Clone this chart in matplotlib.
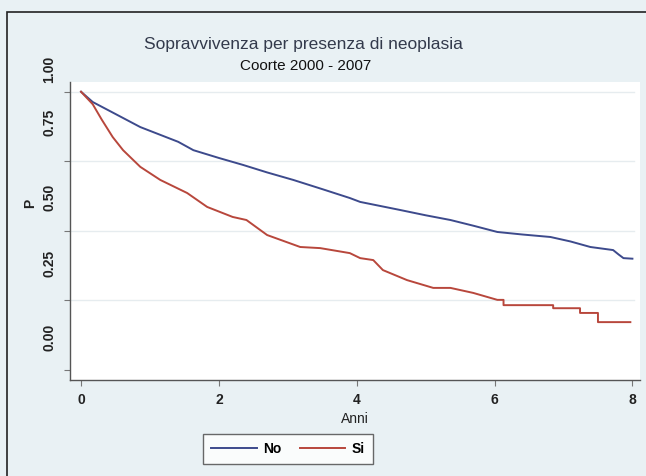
import matplotlib
matplotlib.use("Agg")
import matplotlib.pyplot as plt
import matplotlib.transforms as mtransforms
from matplotlib.patches import Rectangle

plt.rcParams['font.family'] = ['Liberation Sans', 'DejaVu Sans']

# ---- data ----
t_no = [0, 0.17, 0.5, 0.86, 1.41, 1.63, 2.0, 2.35, 2.7, 3.08, 3.5, 3.9, 4.05,
        4.63, 5.0, 5.36, 5.7, 6.04, 6.4, 6.81, 7.1, 7.39, 7.72, 7.8, 7.87, 8.0]
s_no = [1.0, 0.963, 0.92, 0.873, 0.82, 0.79, 0.762, 0.737, 0.71, 0.683, 0.65,
        0.618, 0.604, 0.575, 0.556, 0.539, 0.518, 0.496, 0.487, 0.478, 0.462,
        0.442, 0.431, 0.415, 0.402, 0.40]

t_si = [0, 0.17, 0.3, 0.46, 0.61, 0.86, 1.15, 1.54, 1.83, 2.2, 2.4, 2.7, 3.18, 3.47,
        3.9, 4.05, 4.24, 4.38, 4.73, 5.11, 5.36, 5.69, 6.04, 6.13, 6.13, 6.85,
        6.85, 7.24, 7.24, 7.50, 7.50, 7.97]
s_si = [1.0, 0.955, 0.90, 0.837, 0.79, 0.73, 0.683, 0.636, 0.586, 0.55, 0.539, 0.485,
        0.442, 0.438, 0.42, 0.402, 0.395, 0.359, 0.323, 0.295, 0.295, 0.277,
        0.252, 0.252, 0.233, 0.233, 0.222, 0.222, 0.205, 0.205, 0.172, 0.172]

series_labels = ["No", "Si"]
x_ticks = [0, 2, 4, 6, 8]
y_ticks = [0.00, 0.25, 0.50, 0.75, 1.00]
y_tick_labels = ["0.00", "0.25", "0.50", "0.75", "1.00"]

title = "Sopravvivenza per presenza di neoplasia"
subtitle = "Coorte 2000 - 2007"
xlabel = "Anni"
ylabel = "P"

# ---- styling ----
BG = "#e9f1f4"
BLUE = "#3d4a8c"
RED = "#b8473c"
GRID = "#e6ecef"

W, H = 646, 476
fig = plt.figure(figsize=(W / 100, H / 100), dpi=100, facecolor=BG)

# frame on top/left edges
fig.patches.append(Rectangle((7 / W, -0.1), 1.2, 1 - 12 / H + 0.1,
                             transform=fig.transFigure, fill=False,
                             edgecolor="#222222", linewidth=1.2, zorder=0))

ax = fig.add_axes([70 / W, 1 - 380 / H, (640 - 70) / W, (380 - 82) / H])
ax.set_facecolor("white")

ax.plot(t_no, s_no, color=BLUE, lw=1.4, label=series_labels[0])
ax.plot(t_si, s_si, color=RED, lw=1.4, label=series_labels[1])

ax.set_xlim(-0.16, 8.11)
ax.set_ylim(-0.036, 1.035)

for y in [0.25, 0.5, 0.75, 1.0]:
    ax.axhline(y, color=GRID, lw=1.0, zorder=0, xmin=0.0, xmax=0.99)

for sp in ["top", "right"]:
    ax.spines[sp].set_visible(False)
for sp in ["left", "bottom"]:
    ax.spines[sp].set_color("#555555")
    ax.spines[sp].set_linewidth(1.0)

ax.set_xticks(x_ticks)
ax.set_xticklabels([str(v) for v in x_ticks], fontsize=10, fontweight="bold",
                   color="#222222")
ax.tick_params(axis="x", length=4, color="#777777", pad=5)

ax.set_yticks(y_ticks)
ax.set_yticklabels(y_tick_labels, fontsize=10, fontweight="bold", rotation=90,
                   va="center", color="#222222")
ax.tick_params(axis="y", length=4, color="#777777", pad=6)
# label offsets (in points, upward) as in the reference
offsets = [33, 37, 33, 39, 22]
for lab, off in zip(ax.get_yticklabels(), offsets):
    lab.set_transform(lab.get_transform() +
                      mtransforms.ScaledTranslation(0, off / 100, fig.dpi_scale_trans))

ax.set_xlabel(xlabel, fontsize=10, color="#222222", labelpad=4)
fig.text(30 / W, 1 - 203 / H, ylabel, rotation=90, fontsize=10,
         fontweight="bold", ha="center", va="center", color="#222222")

fig.text(303 / W, 1 - 44 / H, title, fontsize=12.5, ha="center", va="center",
         color="#333a4c")
fig.text(306 / W, 1 - 66 / H, subtitle, fontsize=11, ha="center", va="center",
         color="#111111")

leg = fig.legend(loc="center", bbox_to_anchor=(288 / W, 1 - 449 / H),
                 ncol=2, fontsize=10, frameon=True, fancybox=False,
                 handlelength=3.3, columnspacing=1.3, handletextpad=0.45,
                 borderpad=0.6, borderaxespad=0)
leg.get_frame().set_edgecolor("#444444")
leg.get_frame().set_linewidth(1.0)
for txt in leg.get_texts():
    txt.set_fontweight("bold")

fig.savefig("out.png", dpi=100, facecolor=BG)
